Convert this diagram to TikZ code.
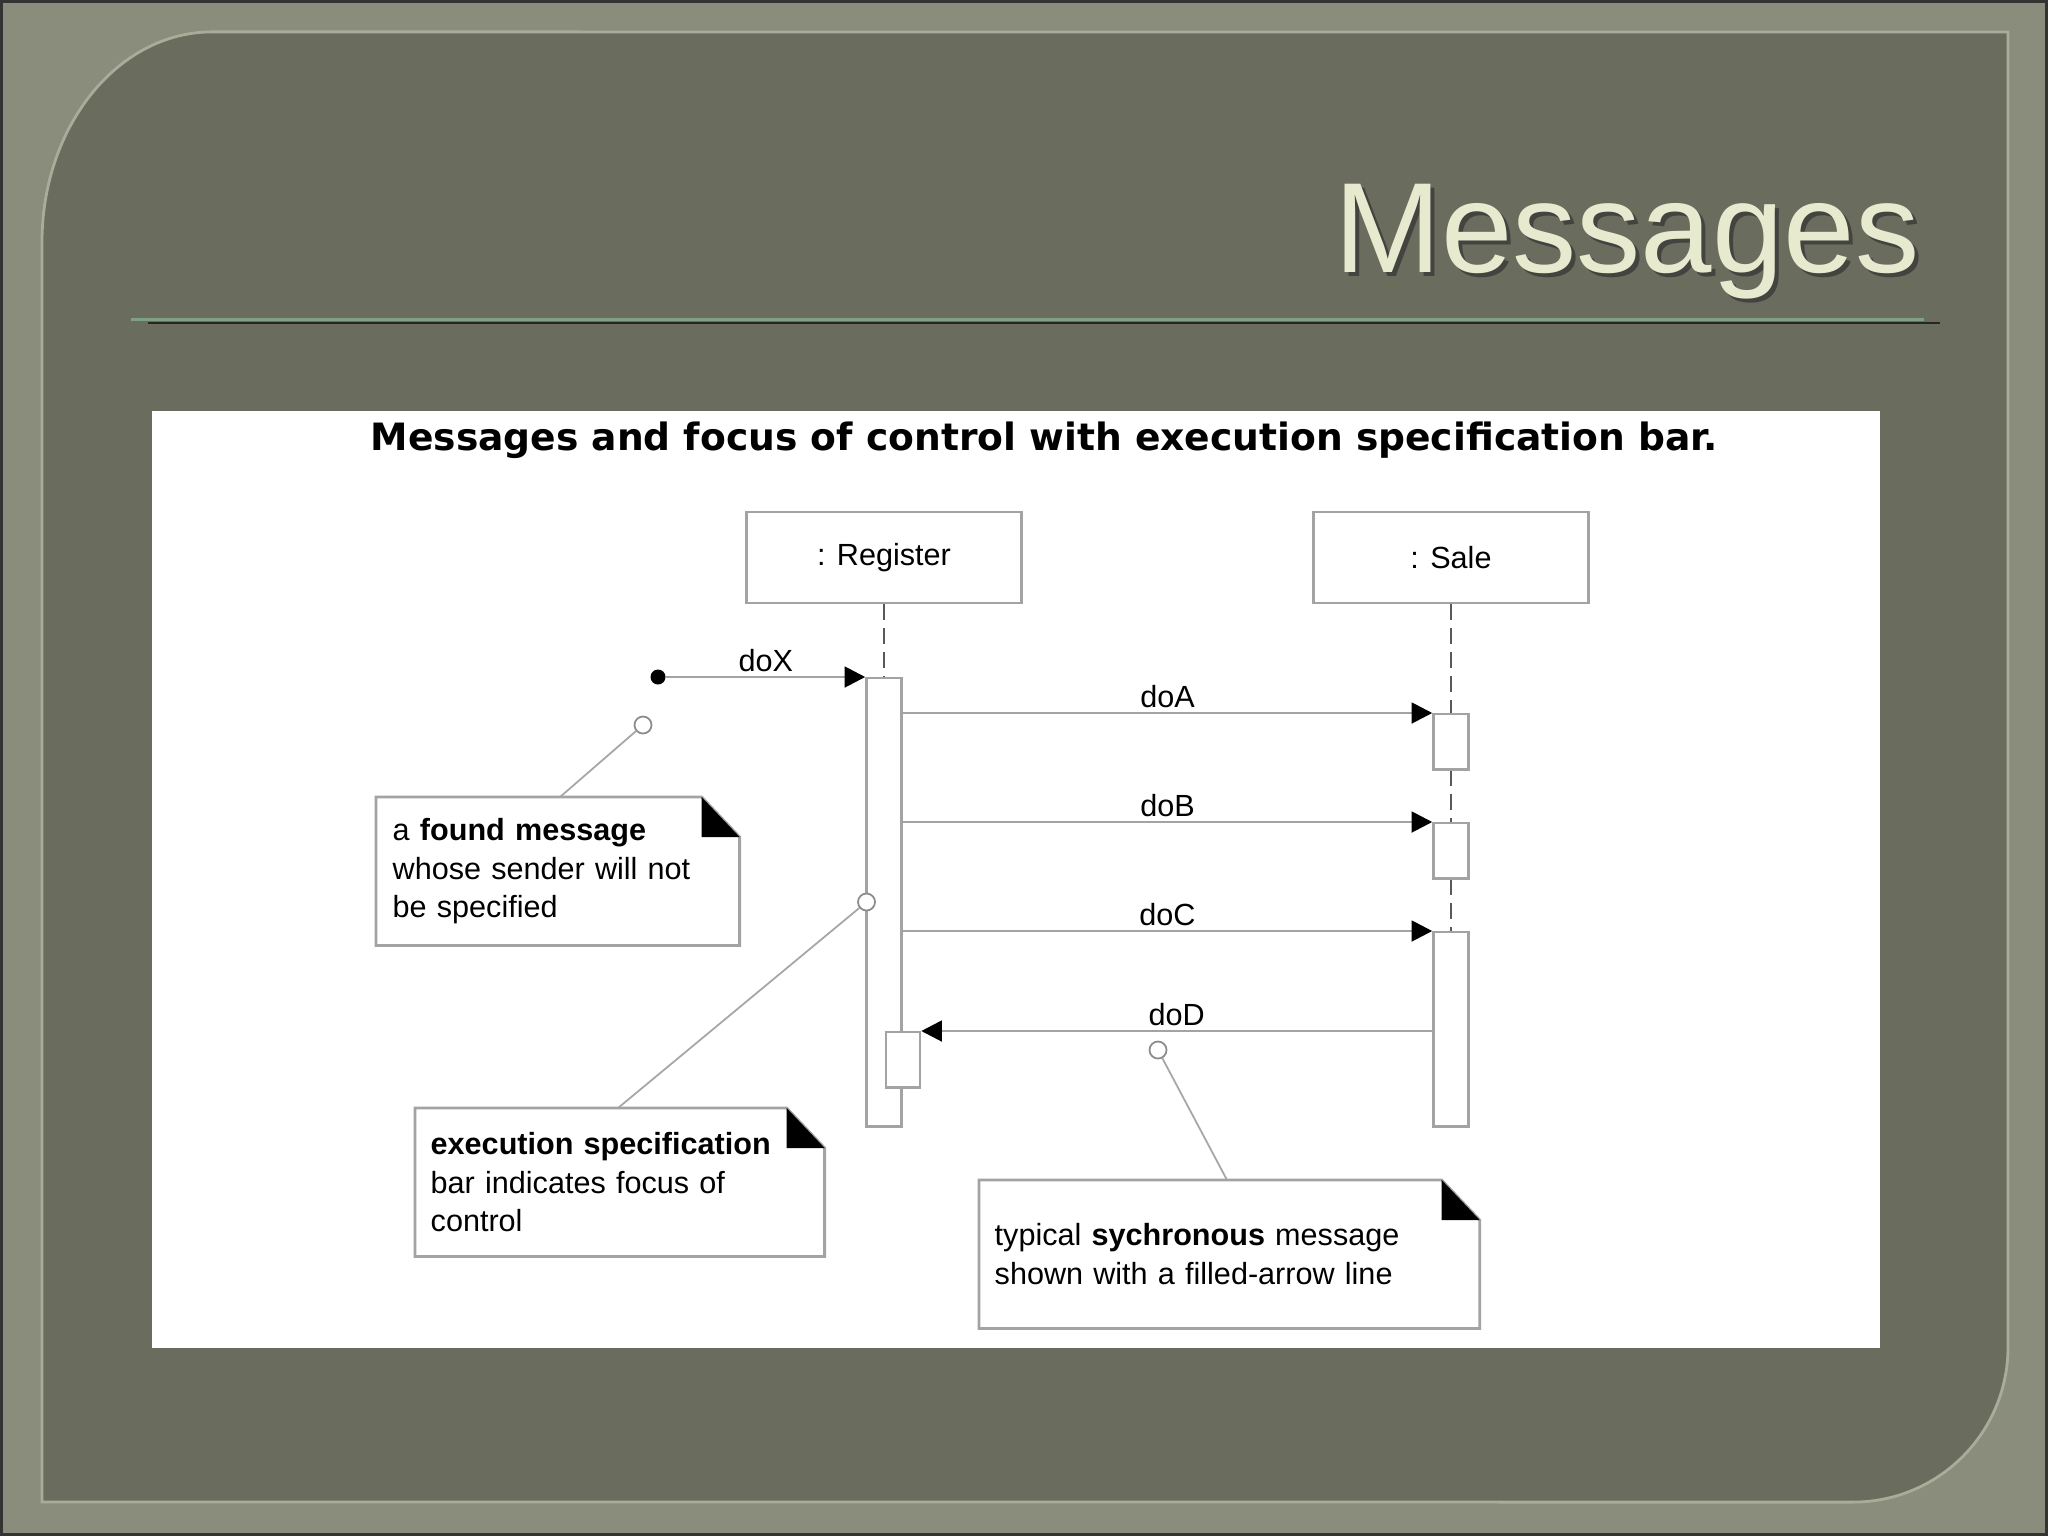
\documentclass[tikz,border=0pt]{standalone}
\usepackage{fontspec}
\setmainfont{Liberation Sans}
\newfontfamily\captionfont{DejaVu Sans}
\usetikzlibrary{arrows.meta,positioning,calc}
\definecolor{slateouter}{HTML}{8A8D7C}
\definecolor{slateinner}{HTML}{6A6C5D}
\definecolor{slateedge}{HTML}{A9AC99}
\definecolor{titlecream}{HTML}{E8EACF}
\definecolor{rulegreen}{HTML}{7FA081}
\definecolor{umlgray}{HTML}{A3A3A3}

\begin{document}
\begin{tikzpicture}[
  x=0.01cm,y=-0.01cm,
  lbl/.style={font=\fontsize{8.7}{11}\selectfont,inner sep=1pt},
  obj/.style={draw=umlgray,line width=0.8pt,fill=white,minimum width=2.75cm,minimum height=0.91cm,font=\fontsize{8.7}{11}\selectfont},
  bar/.style={draw=umlgray,line width=0.7pt,fill=white,minimum width=0.35cm,inner sep=0pt,anchor=north},
  life/.style={draw=black!65,line width=0.6pt,dash pattern=on 4.5pt off 2.3pt},
  msg/.style={draw=umlgray,line width=0.8pt,-{Triangle[length=5.9pt,width=5.9pt,color=black]}},
  note/.style={anchor=north west,align=left,inner xsep=0.15cm,minimum height=1.47cm,font=\fontsize{8.7}{11}\selectfont},
  noteedge/.style={draw=umlgray,line width=0.8pt},
  found/.style={circle,fill=black,minimum size=0.15cm,inner sep=0pt},
  hole/.style={circle,draw=black!45,fill=white,line width=0.5pt,minimum size=0.17cm,inner sep=0pt},
  pointer/.style={draw=black!35,line width=0.5pt}
]
\useasboundingbox (0,0) rectangle (2048,1536);
% slide
\fill[slateouter] (0,0) rectangle (2048,1536);
\draw[black!80,line width=1pt] (1,1) rectangle (2047,1535);
\draw[slateedge,fill=slateinner,line width=0.8pt] (42,242) arc[start angle=180,end angle=90,x radius=1.7cm,y radius=2.1cm]
  -- (2008,32) -- (2008,1347) arc[start angle=0,end angle=-90,radius=1.55cm] -- (42,1502) -- cycle;
\node[anchor=base east,inner sep=0pt,text=black!80,opacity=0.7,font=\fontsize{36.5}{40}\selectfont] (titleshadow) at (1924,276) {Messages};
\node[anchor=base east,inner sep=0pt,text=titlecream,font=\fontsize{36.5}{40}\selectfont] (slidetitle) at (1920,272) {Messages};
\draw[black!85,line width=0.6pt] (148,323) -- (1940,323);
\draw[rulegreen,line width=0.85pt] (131,319) -- (1924,319);
\fill[white] (152,411) rectangle (1880,1348);
\node[anchor=base west,inner sep=0pt,font={\captionfont\bfseries\fontsize{10.7}{13}\selectfont}] (caption) at (370,450)
  {Messages and focus of control with execution specification bar.};

% lifelines and bars
\node[obj] (reg) at (884,557.5) {: Register};
\node[obj] (sale) at (1451,557.5) {: Sale};
\node[bar,minimum height=4.48cm] (regbar) at (884,677) {};
\node[bar,minimum height=0.55cm] (barA) at (1451,713) {};
\node[bar,minimum height=0.55cm] (barB) at (1451,822) {};
\node[bar,minimum height=1.94cm] (barC) at (1451,931) {};
\node[bar,minimum height=0.55cm,minimum width=0.34cm] (nest) at (903,1031) {};
\draw[life] (reg.south) -- (regbar.north);
\draw[life] (sale.south) -- (barA.north);
\draw[life] (barA.south) -- (barB.north);
\draw[life] (barB.south) -- (barC.north);

% messages
\node[found] (dot) at (658,677) {};
\draw[msg] (dot) -- (regbar.north west) node[lbl,midway,above] {doX};
\draw[msg] (regbar.east |- barA.north) -- (barA.north west) node[lbl,midway,above] {doA};
\draw[msg] (regbar.east |- barB.north) -- (barB.north west) node[lbl,midway,above] {doB};
\draw[msg] (regbar.east |- barC.north) -- (barC.north west) node[lbl,midway,above] {doC};
\draw[msg] (barC.west |- nest.north) -- (nest.north east) node[lbl,midway,above] {doD};

% notes
\node[note,text width=3.30cm,minimum width=3.62cm] (nfound) at (376,797) {a \textbf{found message}\\whose sender will not\\be specified};
\node[note,text width=3.78cm,minimum width=4.08cm] (nexec) at (415,1108) {\textbf{execution specification}\\bar indicates focus of\\control};
\node[note,text width=4.69cm,minimum width=4.99cm] (nsync) at (979,1180) {typical \textbf{sychronous} message\\shown with a filled-arrow line};
\foreach \n in {nfound,nexec,nsync}{
  \draw[noteedge] (\n.north west) -- ($(\n.north east)+(-38,0)$) -- ($(\n.north east)+(0,40)$) -- (\n.south east) -- (\n.south west) -- cycle;
  \fill ($(\n.north east)+(-38,0)$) -- ($(\n.north east)+(-38,40)$) -- ($(\n.north east)+(0,40)$) -- cycle;
}
\node[hole] (hfound) at (643,725) {};
\node[hole] (hexec) at (866.5,902) {};
\node[hole] (hsync) at (1158,1050) {};
\draw[pointer] (hfound) -- ($(nfound.north west)+(184,0)$);
\draw[pointer] (hexec) -- ($(nexec.north west)+(203,0)$);
\draw[pointer] (hsync) -- ($(nsync.north west)+(248,0)$);
\end{tikzpicture}
\end{document}
